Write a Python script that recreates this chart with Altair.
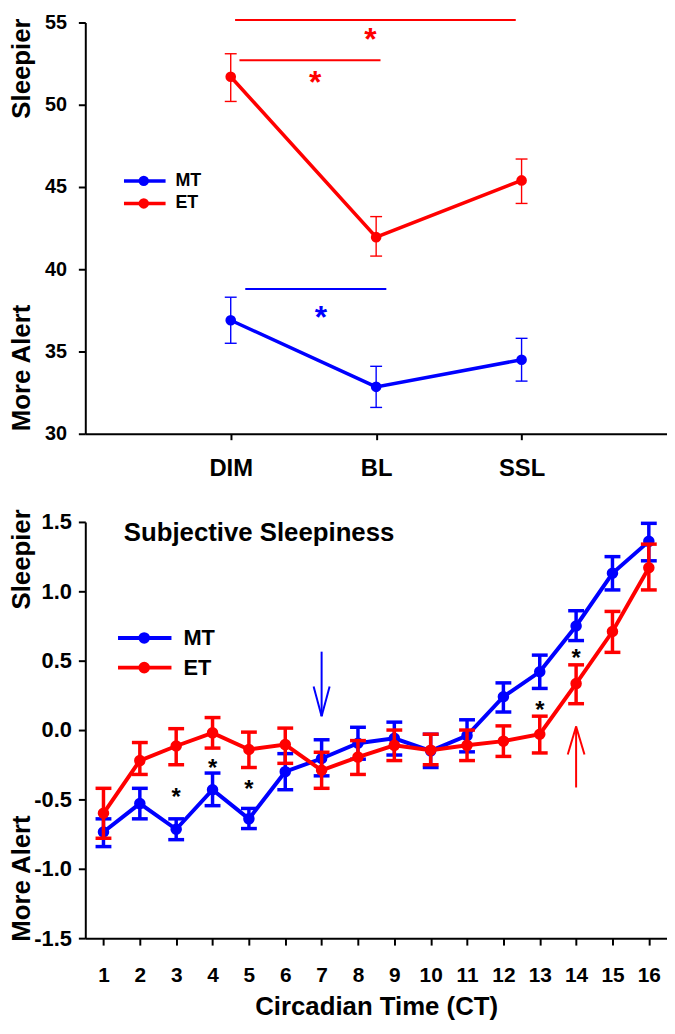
import altair as alt
import pandas as pd

FONT = "Liberation Sans"
BLUE = "#0000ff"
RED = "#ff0000"

# ---------------- top panel data ----------------
conditions = ["DIM", "BL", "SSL"]
cond_x = [1, 2, 3]
mt_top = [36.9, 32.85, 34.5]
mt_top_lo = [35.5, 31.6, 33.2]
mt_top_hi = [38.3, 34.1, 35.8]
et_top = [51.7, 41.95, 45.4]
et_top_lo = [50.2, 40.8, 44.0]
et_top_hi = [53.1, 43.2, 46.7]
top_y_ticks = [30, 35, 40, 45, 50, 55]

# significance bars (top): group, x start, x end, y, star x, star y
sig_top_group = ["ET", "ET", "MT"]
sig_top_x1 = [1.03, 1.06, 1.10]
sig_top_x2 = [2.96, 2.03, 2.07]
sig_top_y = [55.15, 52.7, 38.8]
sig_top_star_x = [1.96, 1.58, 1.62]
sig_top_star_y = [54.33, 51.74, 37.44]

# ---------------- bottom panel data ----------------
ct = list(range(1, 17))
mt_bot = [-0.735, -0.53, -0.715, -0.43, -0.64, -0.30, -0.205, -0.095,
          -0.06, -0.15, -0.04, 0.24, 0.42, 0.75, 1.13, 1.36]
mt_bot_lo = [-0.84, -0.64, -0.79, -0.545, -0.71, -0.43, -0.33, -0.21,
             -0.18, -0.27, -0.157, 0.13, 0.30, 0.645, 1.01, 1.22]
mt_bot_hi = [-0.64, -0.42, -0.64, -0.31, -0.565, -0.17, -0.07, 0.02,
             0.057, -0.03, 0.074, 0.34, 0.54, 0.86, 1.25, 1.49]
et_bot = [-0.60, -0.22, -0.115, -0.02, -0.14, -0.105, -0.29, -0.195,
          -0.11, -0.145, -0.11, -0.08, -0.03, 0.335, 0.71, 1.17]
et_bot_lo = [-0.78, -0.32, -0.25, -0.13, -0.27, -0.24, -0.42, -0.32,
             -0.22, -0.25, -0.22, -0.19, -0.165, 0.19, 0.56, 1.01]
et_bot_hi = [-0.42, -0.09, 0.01, 0.09, -0.015, 0.014, -0.16, -0.076,
             0.0, -0.03, 0.0, 0.03, 0.10, 0.47, 0.855, 1.34]
bot_y_ticks = [-1.5, -1.0, -0.5, 0.0, 0.5, 1.0, 1.5]

sig_bot_ct = [3, 4, 5, 13, 14]
sig_bot_y = [-0.445, -0.24, -0.39, 0.18, 0.555]

# arrows (bottom): colour group, tail/tip segments
arrow_group = ["MT", "MT", "MT", "ET", "ET", "ET"]
arrow_x1 = [7, 6.78, 7.22, 14, 13.77, 14.23]
arrow_y1 = [0.565, 0.314, 0.314, -0.414, -0.176, -0.176]
arrow_x2 = [7, 7, 7, 14, 14, 14]
arrow_y2 = [0.10, 0.10, 0.10, 0.026, 0.026, 0.026]

groups = ["MT", "ET"]
colors = [BLUE, RED]
cscale = alt.Scale(domain=groups, range=colors)


def series_df(x, mean, lo, hi, name):
    return pd.DataFrame({"x": x, "v": mean, "lo": lo, "hi": hi, "g": name})


def axis(**kw):
    base = dict(domainColor="black", domainWidth=2, tickColor="black", tickWidth=2,
                tickSize=7, labelFont=FONT, labelFontWeight="bold", labelColor="black",
                grid=False, titleFont=FONT, titleFontWeight="bold", titleColor="black")
    base.update(kw)
    return alt.Axis(**base)


def panel(xs, ys, xaxis, yaxis, xtitle, series, err_w, cap_w, line_w, pt_size):
    def X(f):
        return alt.X(f, type="quantitative", scale=xs, axis=xaxis, title=xtitle)

    def Y(f):
        return alt.Y(f, type="quantitative", scale=ys, axis=yaxis, title=None)

    col = alt.Color("g:N", scale=cscale, legend=None)
    layers = []
    for df in series:
        b = alt.Chart(df)
        layers.append(b.mark_rule(strokeWidth=err_w).encode(x=X("x"), y=Y("lo"), y2="hi", color=col))
        layers.append(b.mark_tick(orient="horizontal", size=cap_w, thickness=err_w, opacity=1)
                      .encode(x=X("x"), y=Y("lo"), color=col))
        layers.append(b.mark_tick(orient="horizontal", size=cap_w, thickness=err_w, opacity=1)
                      .encode(x=X("x"), y=Y("hi"), color=col))
        layers.append(b.mark_line(strokeWidth=line_w).encode(x=X("x"), y=Y("v"), color=col))
        layers.append(b.mark_circle(size=pt_size, opacity=1).encode(x=X("x"), y=Y("v"), color=col))
    return layers, X, Y, col


# ---------------- top panel ----------------
xs_top = alt.Scale(domain=[0, 4], nice=False, zero=False)
ys_top = alt.Scale(domain=[30, 55], nice=False, zero=False)
label_js = "[''," + ",".join("'%s'" % c for c in conditions) + "][datum.value]"
xaxis_top = axis(values=cond_x, labelExpr=label_js, labelFontSize=24, labelPadding=17,
                 tickSize=6)
yaxis_top = axis(values=top_y_ticks, labelFontSize=20, labelPadding=12)

top_series = [series_df(cond_x, mt_top, mt_top_lo, mt_top_hi, "MT"),
              series_df(cond_x, et_top, et_top_lo, et_top_hi, "ET")]
tl, TX, TY, tcol = panel(xs_top, ys_top, xaxis_top, yaxis_top, None, top_series,
                         1.4, 12, 3.5, 115)

sig_df = pd.DataFrame({"g": sig_top_group, "x1": sig_top_x1, "x2": sig_top_x2, "y": sig_top_y,
                       "sx": sig_top_star_x, "sy": sig_top_star_y, "t": "*"})
tl.append(alt.Chart(sig_df).mark_rule(strokeWidth=2).encode(x=TX("x1"), x2="x2", y=TY("y"), color=tcol))
tl.append(alt.Chart(sig_df).mark_text(fontSize=32, fontWeight="bold", baseline="alphabetic", dy=17)
          .encode(x=TX("sx"), y=TY("sy"), text="t:N", color=tcol))

# legend (top)
leg_top = pd.DataFrame({"g": groups, "y": [45.37, 44.0]})
leg_top["x1"], leg_top["x2"], leg_top["xc"], leg_top["xt"] = 0.266, 0.552, 0.402, 0.62
tl.append(alt.Chart(leg_top).mark_rule(strokeWidth=3.5).encode(x=TX("x1"), x2="x2", y=TY("y"), color=tcol))
tl.append(alt.Chart(leg_top).mark_circle(size=110, opacity=1).encode(x=TX("xc"), y=TY("y"), color=tcol))
tl.append(alt.Chart(leg_top).mark_text(fontSize=18, fontWeight="bold", align="left", baseline="middle", color="black")
          .encode(x=TX("xt"), y=TY("y"), text="g:N"))

# y titles (top)
ytitle_top = pd.DataFrame({"t": ["Sleepier", "More Alert"], "y": [52.2, 34.0]})
tl.append(alt.Chart(ytitle_top).mark_text(fontSize=26, fontWeight="bold", angle=270, baseline="middle",
                                          align="center", color="black")
          .encode(x=alt.value(-64), y=TY("y"), text="t:N"))

top = alt.layer(*tl).properties(width=587, height=415)

# ---------------- bottom panel ----------------
xs_bot = alt.Scale(domain=[0.5, 16.5], nice=False, zero=False)
ys_bot = alt.Scale(domain=[-1.5, 1.5], nice=False, zero=False)
xaxis_bot = axis(values=ct, labelFontSize=21, labelPadding=20, titleFontSize=26, titlePadding=8)
yaxis_bot = axis(values=bot_y_ticks, labelFontSize=22, labelPadding=7,
                 labelExpr="datum.value < 0 ? '-' + format(-datum.value, '.1f') : format(datum.value, '.1f')")

bot_series = [series_df(ct, mt_bot, mt_bot_lo, mt_bot_hi, "MT"),
              series_df(ct, et_bot, et_bot_lo, et_bot_hi, "ET")]
bl, BX, BY, bcol = panel(xs_bot, ys_bot, xaxis_bot, yaxis_bot, "Circadian Time (CT)", bot_series,
                         3.5, 16, 4, 135)

star_df = pd.DataFrame({"x": sig_bot_ct, "y": sig_bot_y, "t": "*"})
bl.append(alt.Chart(star_df).mark_text(fontSize=24, fontWeight="bold", baseline="alphabetic", dy=13, color="black")
          .encode(x=BX("x"), y=BY("y"), text="t:N"))

arr_df = pd.DataFrame({"g": arrow_group, "x1": arrow_x1, "y1": arrow_y1, "x2": arrow_x2, "y2": arrow_y2})
bl.append(alt.Chart(arr_df).mark_rule(strokeWidth=2).encode(x=BX("x1"), y=BY("y1"), x2="x2", y2="y2", color=bcol))

leg_bot = pd.DataFrame({"g": groups, "y": [0.664, 0.45]})
leg_bot["x1"], leg_bot["x2"], leg_bot["xc"], leg_bot["xt"] = 1.40, 2.87, 2.12, 3.2
bl.append(alt.Chart(leg_bot).mark_rule(strokeWidth=4).encode(x=BX("x1"), x2="x2", y=BY("y"), color=bcol))
bl.append(alt.Chart(leg_bot).mark_circle(size=135, opacity=1).encode(x=BX("xc"), y=BY("y"), color=bcol))
bl.append(alt.Chart(leg_bot).mark_text(fontSize=22, fontWeight="bold", align="left", baseline="middle", color="black")
          .encode(x=BX("xt"), y=BY("y"), text="g:N"))

title_df = pd.DataFrame({"t": ["Subjective Sleepiness"], "x": [1.56], "y": [1.36]})
bl.append(alt.Chart(title_df).mark_text(fontSize=26, fontWeight="bold", align="left", baseline="alphabetic", color="black")
          .encode(x=BX("x"), y=BY("y"), text="t:N"))

ytitle_bot = pd.DataFrame({"t": ["Sleepier", "More Alert"], "y": [1.23, -1.07]})
bl.append(alt.Chart(ytitle_bot).mark_text(fontSize=26, fontWeight="bold", angle=270, baseline="middle",
                                          align="center", color="black")
          .encode(x=alt.value(-64), y=BY("y"), text="t:N"))

bottom = alt.layer(*bl).properties(width=587, height=420)

chart = (alt.vconcat(top, bottom, spacing=29)
         .properties(padding={"left": 0, "top": 0, "right": 0, "bottom": 0})
         .configure(font=FONT)
         .configure_view(stroke=None))

chart.save("out.html", embed_options={"renderer": "svg", "actions": False})
